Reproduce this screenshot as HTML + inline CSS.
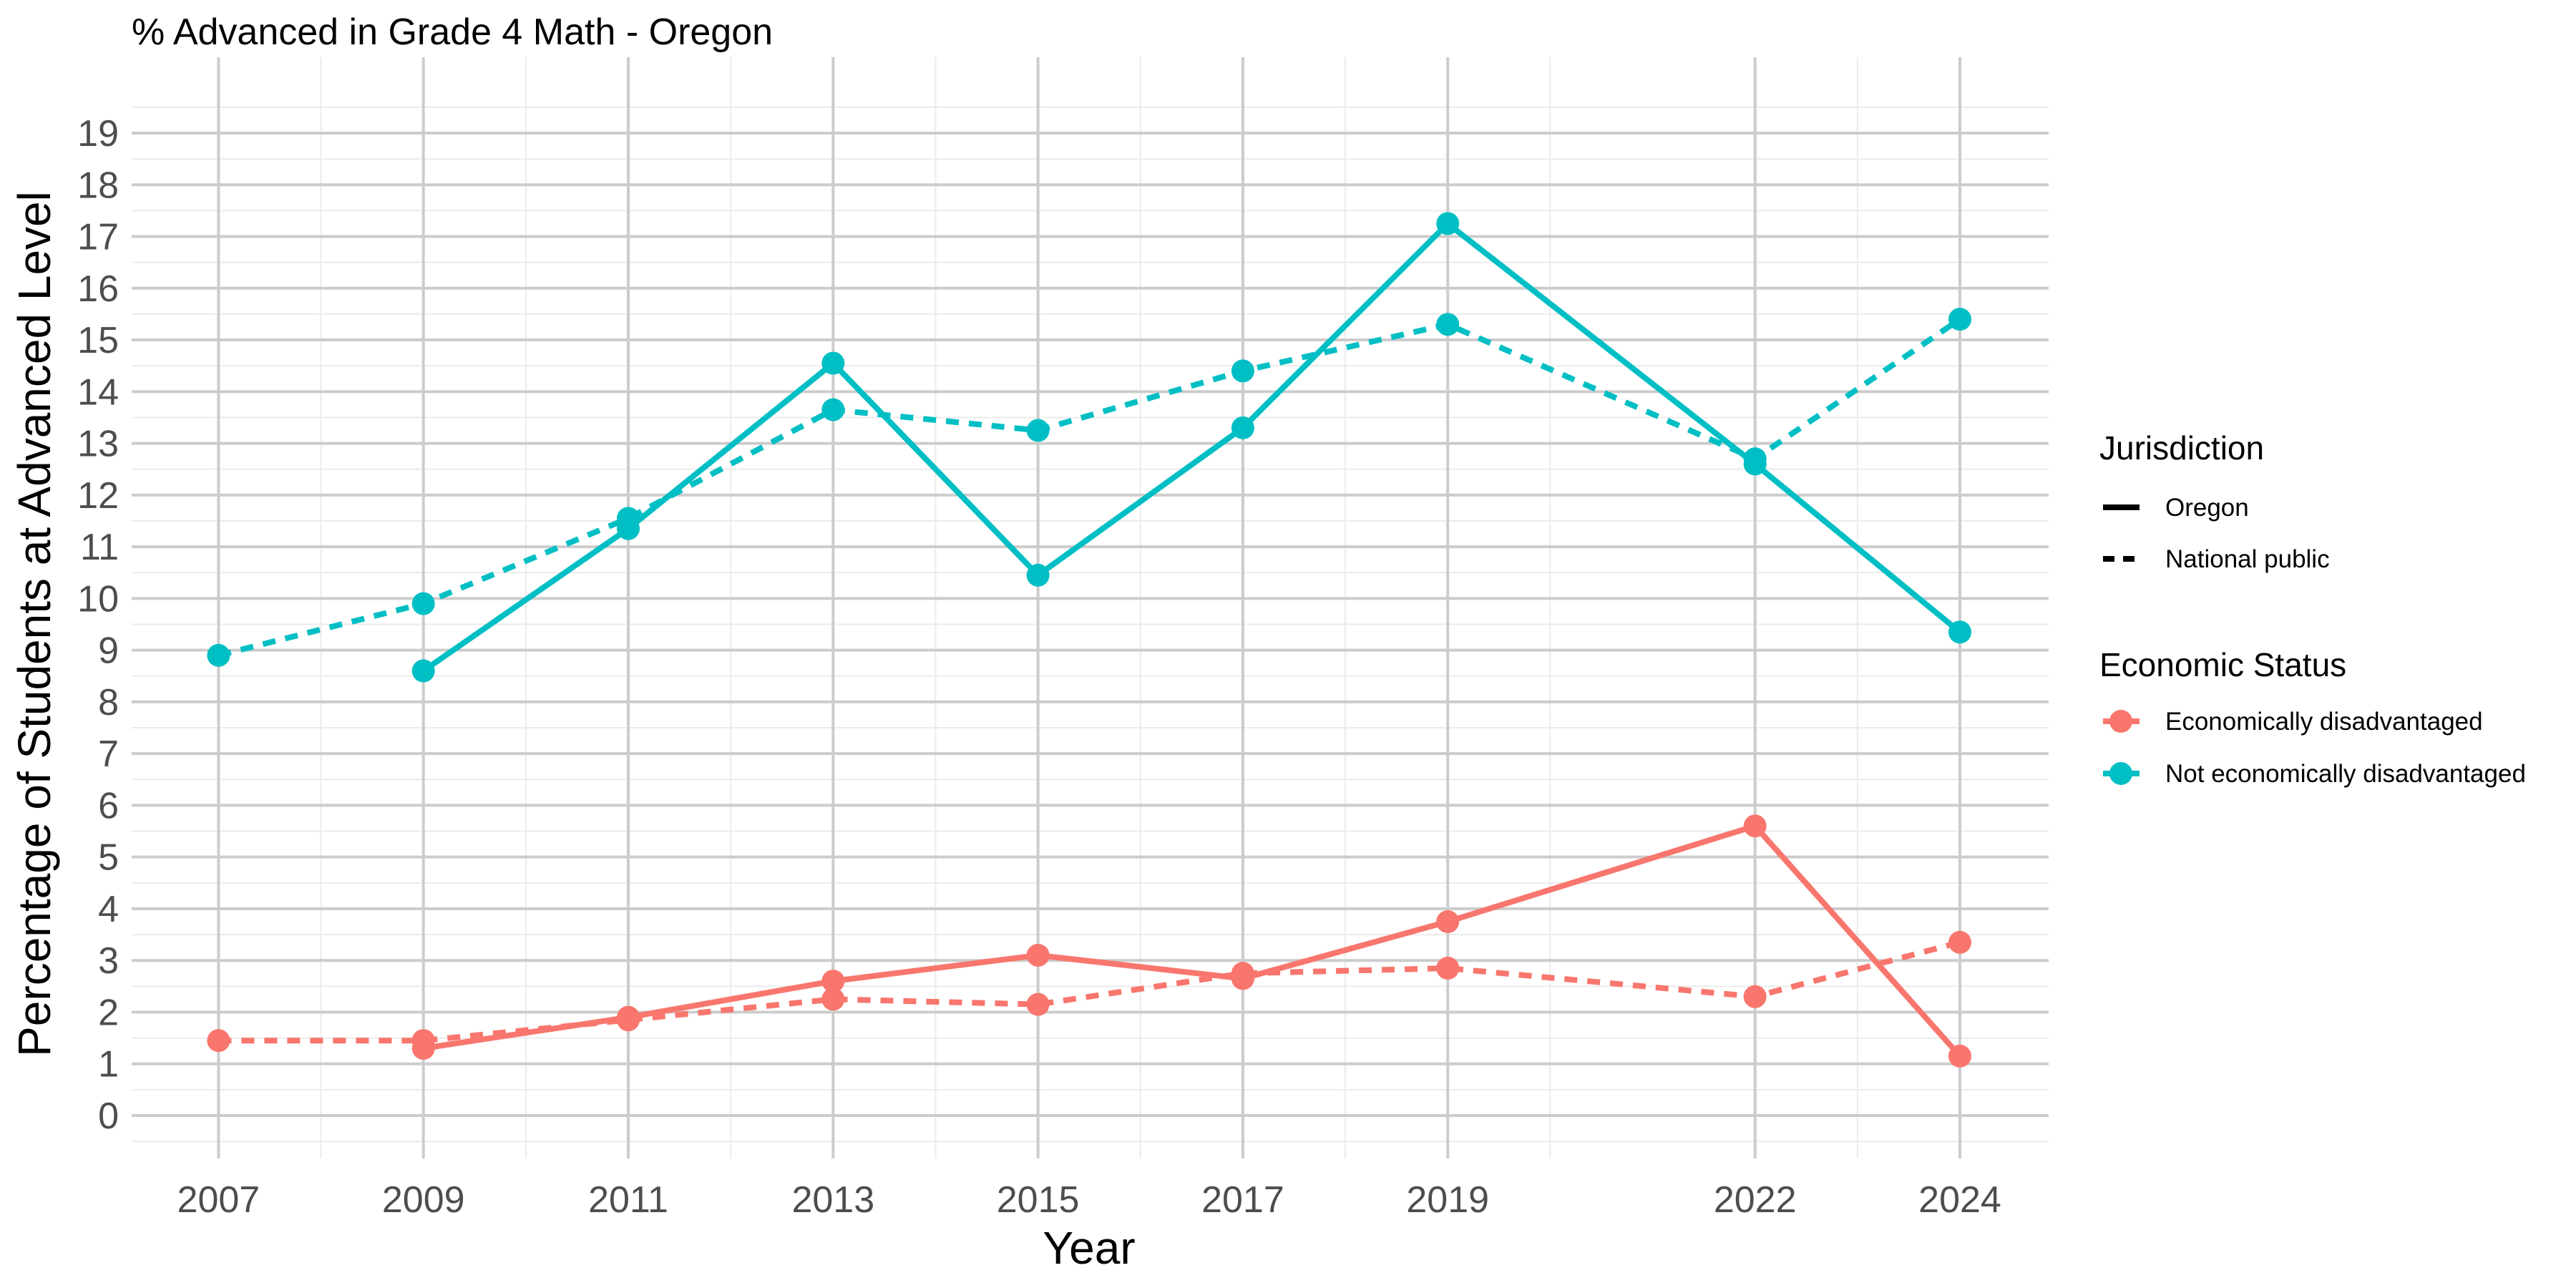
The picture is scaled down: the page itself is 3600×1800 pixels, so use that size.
<!DOCTYPE html>
<html><head><meta charset="utf-8"><style>
html,body{margin:0;padding:0;background:#fff;}
svg{display:block;font-family:"Liberation Sans",Arial,sans-serif;}
</style></head><body>
<svg id="chart" width="3600" height="1800" viewBox="0 0 3600 1800">
<text x="184" y="62" font-size="52" fill="#000">% Advanced in Grade 4 Math - Oregon</text>
<g id="grid"></g>
<g id="axes"></g>
<g id="series"></g>
<text x="1522" y="1766" font-size="64" text-anchor="middle" fill="#000">Year</text>
<text transform="translate(70,872) rotate(-90)" font-size="64" text-anchor="middle" fill="#000">Percentage of Students at Advanced Level</text>
<g id="legend">
<text x="2934" y="642" font-size="46" fill="#000">Jurisdiction</text>
<line x1="2939" y1="709" x2="2990" y2="709" stroke="#000" stroke-width="8"/>
<text x="3026" y="721" font-size="35" fill="#000">Oregon</text>
<line x1="2939" y1="781" x2="2990" y2="781" stroke="#000" stroke-width="8" stroke-dasharray="16,12"/>
<text x="3026" y="793" font-size="35" fill="#000">National public</text>
<text x="2934" y="945" font-size="46" fill="#000">Economic Status</text>
<line x1="2939" y1="1008" x2="2990" y2="1008" stroke="#F8766D" stroke-width="8"/>
<circle cx="2964" cy="1008" r="16" fill="#F8766D"/>
<text x="3026" y="1020" font-size="35" fill="#000">Economically disadvantaged</text>
<line x1="2939" y1="1081" x2="2990" y2="1081" stroke="#00BFC4" stroke-width="8"/>
<circle cx="2964" cy="1081" r="16" fill="#00BFC4"/>
<text x="3026" y="1093" font-size="35" fill="#000">Not economically disadvantaged</text>
</g>
</svg>
<script>
const years = [2007, 2009, 2011, 2013, 2015, 2017, 2019, 2022, 2024];
const xMinor = [2008, 2010, 2012, 2014, 2016, 2018, 2020, 2023];
const yTicks = [0,1,2,3,4,5,6,7,8,9,10,11,12,13,14,15,16,17,18,19];
const orNotEcon = [null, 8.6, 11.35, 14.55, 10.45, 13.3, 17.25, 12.6, 9.35];
const natNotEcon = [8.9, 9.9, 11.55, 13.65, 13.25, 14.4, 15.3, 12.7, 15.4];
const orEcon = [null, 1.3, 1.9, 2.6, 3.1, 2.65, 3.75, 5.6, 1.15];
const natEcon = [1.45, 1.45, 1.85, 2.25, 2.15, 2.75, 2.85, 2.3, 3.35];

const NS = 'http://www.w3.org/2000/svg';
const PX0 = 184, PX1 = 2863, PY0 = 80, PY1 = 1619;
function xs(y){ return 305.4 + (y - 2007) * (2739 - 305.4) / 17; }
function ys(v){ return 1559 - v * (1559 - 186) / 19; }
function mk(tag, attrs, parent){ const e = document.createElementNS(NS, tag); for (const k in attrs) e.setAttribute(k, attrs[k]); parent.appendChild(e); return e; }

const grid = document.getElementById('grid');
const axes = document.getElementById('axes');
for (let v = -0.5; v <= 19.5; v += 1) {
  const l = mk('line', {x1:PX0, x2:PX1, y1:ys(v), y2:ys(v), stroke:'#ebebeb', 'stroke-width':2}, grid);
  
  
}
xMinor.forEach(yr => {
  const l = mk('line', {x1:xs(yr), x2:xs(yr), y1:PY0, y2:PY1, stroke:'#ebebeb', 'stroke-width':2}, grid);
  
  
});
yTicks.forEach(v => {
  const l = mk('line', {x1:PX0, x2:PX1, y1:ys(v), y2:ys(v), stroke:'#cccccc', 'stroke-width':4}, grid);
  
  
  const t = mk('text', {x:166, y:ys(v)+18, 'font-size':52, 'text-anchor':'end', fill:'#4d4d4d'}, axes);
  t.textContent = v;
  
  
});
years.forEach(yr => {
  const l = mk('line', {x1:xs(yr), x2:xs(yr), y1:PY0, y2:PY1, stroke:'#cccccc', 'stroke-width':4}, grid);
  
  
  const t = mk('text', {x:xs(yr), y:1694, 'font-size':52, 'text-anchor':'middle', fill:'#4d4d4d'}, axes);
  t.textContent = yr;
  
  
});

const series = document.getElementById('series');
function draw(vals, color, dashed, name){
  const pts = [];
  vals.forEach((v,i) => { if (v !== null) pts.push([xs(years[i]), ys(v)]); });
  const p = mk('polyline', {points: pts.map(q => q.join(',')).join(' '), fill:'none', stroke:color, 'stroke-width':8, 'stroke-linejoin':'round'}, series);
  if (dashed) p.setAttribute('stroke-dasharray', '18,14');
  
  
  pts.forEach(q => {
    const c = mk('circle', {cx:q[0], cy:q[1], r:16, fill:color}, series);
    
    
  });
}
draw(natNotEcon, '#00BFC4', true, 'national-not-econ');
draw(orNotEcon, '#00BFC4', false, 'oregon-not-econ');
draw(natEcon, '#F8766D', true, 'national-econ');
draw(orEcon, '#F8766D', false, 'oregon-econ');
</script>
</body></html>
